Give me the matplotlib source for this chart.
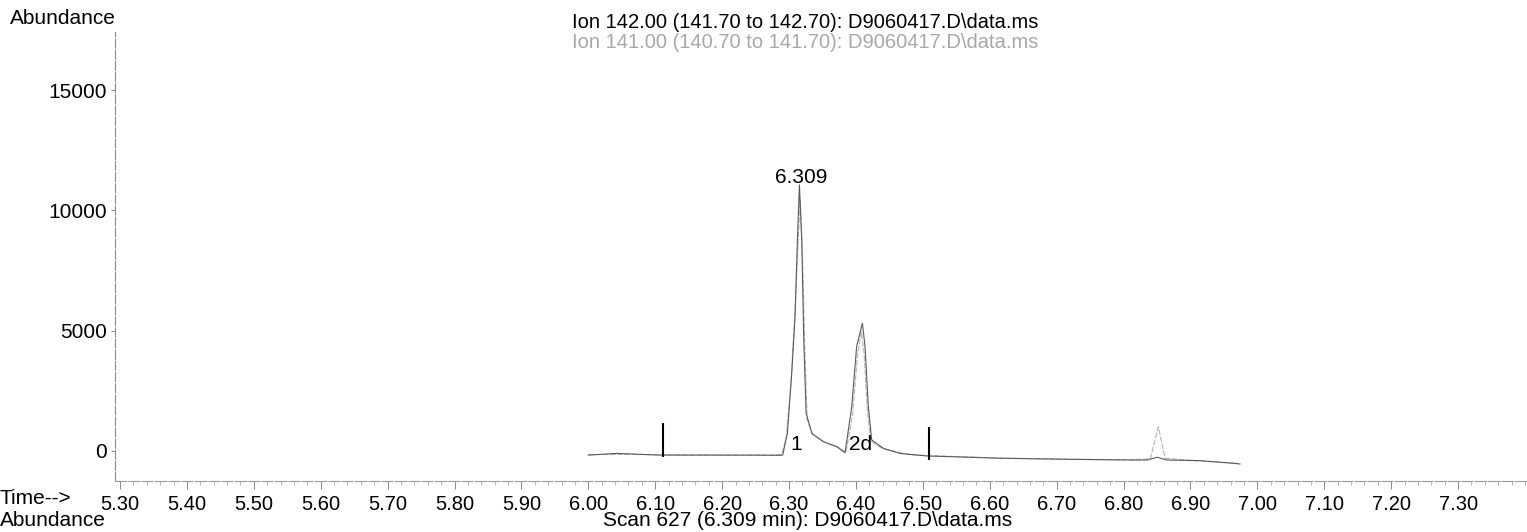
import matplotlib.pyplot as plt
from matplotlib.ticker import MultipleLocator, FixedLocator

plt.rcParams["font.family"] = ["Liberation Sans", "DejaVu Sans"]

TITLE_142 = "Ion 142.00 (141.70 to 142.70): D9060417.D\\data.ms"
TITLE_141 = "Ion 141.00 (140.70 to 141.70): D9060417.D\\data.ms"
SCAN_TEXT = "Scan 627 (6.309 min): D9060417.D\\data.ms"

# ion 142 trace (time in min, abundance)
TIME_142 = [6.000, 6.042, 6.107, 6.152, 6.216, 6.242, 6.288, 6.2905, 6.2975,
            6.304, 6.309, 6.3125, 6.3155, 6.319, 6.322, 6.3255, 6.334, 6.351,
            6.371, 6.3837, 6.3937, 6.401, 6.4096, 6.4136, 6.4185, 6.4235,
            6.441, 6.466, 6.491, 6.508, 6.541, 6.615, 6.715, 6.815, 6.835,
            6.850, 6.865, 6.914, 6.964, 6.974]
ABUND_142 = [-170, -100, -170, -170, -170, -170, -180, -166, 735,
             3230, 5580, 8770, 11060, 8770, 4610, 1580, 735, 390,
             180, -70, 1840, 4340, 5310, 4340, 1840, 460,
             110, -100, -170, -210, -235, -300, -345, -375, -375,
             -260, -375, -400, -510, -540]

# ion 141 trace
TIME_141 = [6.000, 6.060, 6.120, 6.200, 6.260, 6.289, 6.296, 6.303, 6.309,
            6.313, 6.3165, 6.320, 6.3235, 6.327, 6.336, 6.355, 6.375, 6.385,
            6.395, 6.402, 6.408, 6.412, 6.417, 6.422, 6.440, 6.480, 6.540,
            6.620, 6.720, 6.800, 6.840, 6.852, 6.862, 6.900, 6.950, 6.972]
ABUND_141 = [-150, -140, -160, -170, -175, -150, 600, 2900, 5900,
             8400, 10400, 8200, 4300, 1300, 650, 340, 150, -60,
             1500, 3900, 4950, 4100, 1700, 420, 90, -150, -220,
             -300, -340, -370, -330, 1010, -300, -390, -480, -520]

# integration markers (time, bottom, top)
MARK_TIME = [6.112, 6.509]
MARK_LOW = [-250, -370]
MARK_HIGH = [1160, 1000]

PEAK_LABELS = ["1", "2d"]
PEAK_LABEL_TIME = [6.3105, 6.4076]
PEAK_LABEL_Y = [250, 250]

APEX_TIME = 6.3185
APEX_Y = 11150
APEX_LABEL = "6.309"

Y_TICKS = [0, 5000, 10000, 15000]
X_TICKS = [5.30, 5.40, 5.50, 5.60, 5.70, 5.80, 5.90, 6.00, 6.10, 6.20, 6.30,
           6.40, 6.50, 6.60, 6.70, 6.80, 6.90, 7.00, 7.10, 7.20, 7.30]

FS = 15

W, H = 1527, 532
fig = plt.figure(figsize=(W / 100, H / 100), dpi=100)
ax = fig.add_axes([115 / W, 1 - 481 / H, 1 - 115 / W, (481 - 32) / H])

ax.plot(TIME_141, ABUND_141, color="#b4b4b4", linewidth=0.8,
        linestyle=(0, (5, 1.5)))
ax.plot(TIME_142, ABUND_142, color="#5a5a5a", linewidth=0.8)

ax.vlines(MARK_TIME, MARK_LOW, MARK_HIGH, color="black", linewidth=1.5)

for label, t, y in zip(PEAK_LABELS, PEAK_LABEL_TIME, PEAK_LABEL_Y):
    ax.text(t, y, label, fontsize=FS, ha="center", va="center", color="black")

ax.text(APEX_TIME, APEX_Y, APEX_LABEL, fontsize=FS, ha="center",
        va="baseline", color="black")

ax.set_xlim(5.2925, 7.403)
ax.set_ylim(-1247, 17415)

ax.xaxis.set_major_locator(FixedLocator(X_TICKS))
ax.set_xticklabels([f"{x:.2f}" for x in X_TICKS])
ax.xaxis.set_minor_locator(MultipleLocator(0.02))
ax.yaxis.set_major_locator(FixedLocator(Y_TICKS))
ax.set_yticklabels([str(v) for v in Y_TICKS])

ax.tick_params(axis="x", which="major", direction="out", length=6, width=0.7,
               color="#888888", labelsize=14.5, pad=4)
ax.tick_params(axis="x", which="minor", direction="out", length=3, width=0.6,
               color="#aaaaaa")
ax.tick_params(axis="y", which="major", direction="out", length=3, width=0.7,
               color="#888888", labelsize=FS, pad=3)

for side in ["top", "right"]:
    ax.spines[side].set_visible(False)
ax.spines["left"].set_color("#8a8a8a")
ax.spines["left"].set_linewidth(0.8)
ax.spines["left"].set_linestyle((0, (8, 2)))
ax.spines["bottom"].set_color("#9a9a9a")
ax.spines["bottom"].set_linewidth(0.8)
ax.spines["bottom"].set_linestyle((0, (10, 2)))

fig.text(10 / W, 1 - 18 / H, "Abundance", fontsize=FS, ha="left", va="center")
fig.text(572 / W, 1 - 23 / H, TITLE_142, fontsize=14.5, ha="left",
         va="center", color="black")
fig.text(572 / W, 1 - 43 / H, TITLE_141, fontsize=14.5, ha="left",
         va="center", color="#a8a8a8")
fig.text(0 / W, 1 - 499 / H, "Time-->", fontsize=FS, ha="left", va="center")
fig.text(0 / W, 1 - 521 / H, "Abundance", fontsize=FS, ha="left", va="center")
fig.text(603 / W, 1 - 521 / H, SCAN_TEXT, fontsize=FS, ha="left",
         va="center")

fig.savefig("out.png", dpi=100)
